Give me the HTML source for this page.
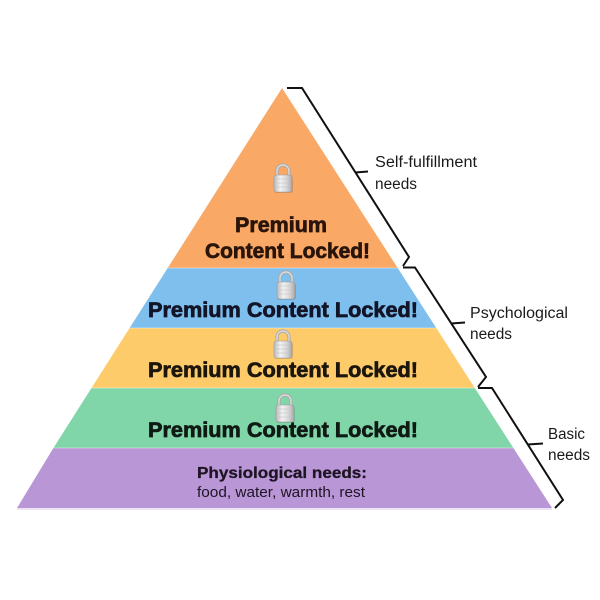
<!DOCTYPE html>
<html>
<head>
<meta charset="utf-8">
<style>
  html,body{margin:0;padding:0;background:#fff;}
  svg{display:block;}
  .t{font-family:"Liberation Sans",Arial,sans-serif;}
</style>
</head>
<body>
<svg width="600" height="600" viewBox="0 0 600 600" xmlns="http://www.w3.org/2000/svg">
  <defs>
    <linearGradient id="lb" x1="0" y1="0" x2="1" y2="0">
      <stop offset="0" stop-color="#b9b9b9"/>
      <stop offset="0.35" stop-color="#f2f2f2"/>
      <stop offset="0.7" stop-color="#d6d6d6"/>
      <stop offset="1" stop-color="#a8a8a8"/>
    </linearGradient>
    <g id="lock">
      <rect x="-9" y="11" width="19" height="17" rx="2.5" fill="#000" opacity="0.12"/>
      <path d="M-6,12 V6 A6,6 0 0 1 6,6 V12" fill="none" stroke="#a9a9a9" stroke-width="3.2"/>
      <path d="M-6,12 V6 A6,6 0 0 1 6,6 V12" fill="none" stroke="#dcdcdc" stroke-width="1.4"/>
      <rect x="-9" y="10" width="18" height="17" rx="2.5" fill="url(#lb)" stroke="#9a9a9a" stroke-width="0.6"/>
      <line x1="-7" y1="14" x2="7" y2="14" stroke="#c4c4c4" stroke-width="0.6"/>
      <line x1="-7" y1="18" x2="7" y2="18" stroke="#c4c4c4" stroke-width="0.6"/>
      <line x1="-7" y1="22" x2="7" y2="22" stroke="#c4c4c4" stroke-width="0.6"/>
    </g>
  </defs>

  <polygon points="282,88 167.7,268 397.7,268" fill="#F9A865"/>
  <polygon points="167.7,268 397.7,268 436.3,328 129.6,328" fill="#7EBFEE"/>
  <polygon points="129.6,328 436.3,328 474.8,388 91.5,388" fill="#FECB6A"/>
  <polygon points="91.5,388 474.8,388 513.4,448 53.4,448" fill="#80D6A9"/>
  <polygon points="53.4,448 513.4,448 552,508 17,508" fill="#B996D5"/>
  <g stroke="#ffffff" stroke-opacity="0.35" stroke-width="1.2">
    <line x1="167.7" y1="268" x2="397.7" y2="268"/>
    <line x1="129.6" y1="328" x2="436.3" y2="328"/>
    <line x1="91.5" y1="388" x2="474.8" y2="388"/>
    <line x1="53.4" y1="448" x2="513.4" y2="448"/>
  </g>
  <line x1="17" y1="509" x2="552" y2="509" stroke="#e6dcf0" stroke-width="1.5"/>

  <use href="#lock" x="283" y="165"/>
  <use href="#lock" x="286" y="272"/>
  <use href="#lock" x="283" y="331"/>
  <use href="#lock" x="285" y="395"/>

  <g class="t" font-weight="bold" text-anchor="middle" stroke-width="0.7">
    <text x="281" y="232" font-size="21" fill="#2a150b" stroke="#2a150b" textLength="92" lengthAdjust="spacingAndGlyphs">Premium</text>
    <text x="287.5" y="258" font-size="21" fill="#2a150b" stroke="#2a150b" textLength="165" lengthAdjust="spacingAndGlyphs">Content Locked!</text>
    <text x="283" y="317" font-size="21" fill="#121428" stroke="#121428" textLength="270" lengthAdjust="spacingAndGlyphs">Premium Content Locked!</text>
    <text x="283" y="377" font-size="21" fill="#1c160c" stroke="#1c160c" textLength="270" lengthAdjust="spacingAndGlyphs">Premium Content Locked!</text>
    <text x="283" y="437" font-size="21" fill="#0f1a14" stroke="#0f1a14" textLength="270" lengthAdjust="spacingAndGlyphs">Premium Content Locked!</text>
    <text x="282" y="478" font-size="16" fill="#1e1424" stroke="#1e1424" stroke-width="0.3" textLength="170" lengthAdjust="spacingAndGlyphs">Physiological needs:</text>
  </g>
  <text class="t" x="281" y="497" font-size="15" fill="#1e1424" text-anchor="middle" textLength="168" lengthAdjust="spacingAndGlyphs">food, water, warmth, rest</text>

  <g fill="none" stroke="#111" stroke-width="2" stroke-linejoin="miter">
    <polyline points="287,88 302,88 409,257 403,266"/>
    <line x1="355" y1="172.5" x2="368" y2="171.5"/>
    <polyline points="403,267.5 415,267.5 486,377 478,387"/>
    <line x1="451" y1="323.5" x2="465" y2="322.5"/>
    <polyline points="478,388 492,388 563,500 555,508"/>
    <line x1="527.5" y1="444.5" x2="543" y2="443.5"/>
  </g>

  <g class="t" font-size="15.5" fill="#1a1a1a">
    <text x="375" y="167" textLength="102" lengthAdjust="spacingAndGlyphs">Self-fulfillment</text>
    <text x="375" y="189" textLength="42" lengthAdjust="spacingAndGlyphs">needs</text>
    <text x="470" y="318" textLength="98" lengthAdjust="spacingAndGlyphs">Psychological</text>
    <text x="470" y="339" textLength="42" lengthAdjust="spacingAndGlyphs">needs</text>
    <text x="548" y="439" textLength="37" lengthAdjust="spacingAndGlyphs">Basic</text>
    <text x="548" y="460" textLength="42" lengthAdjust="spacingAndGlyphs">needs</text>
  </g>
</svg>
</body>
</html>
